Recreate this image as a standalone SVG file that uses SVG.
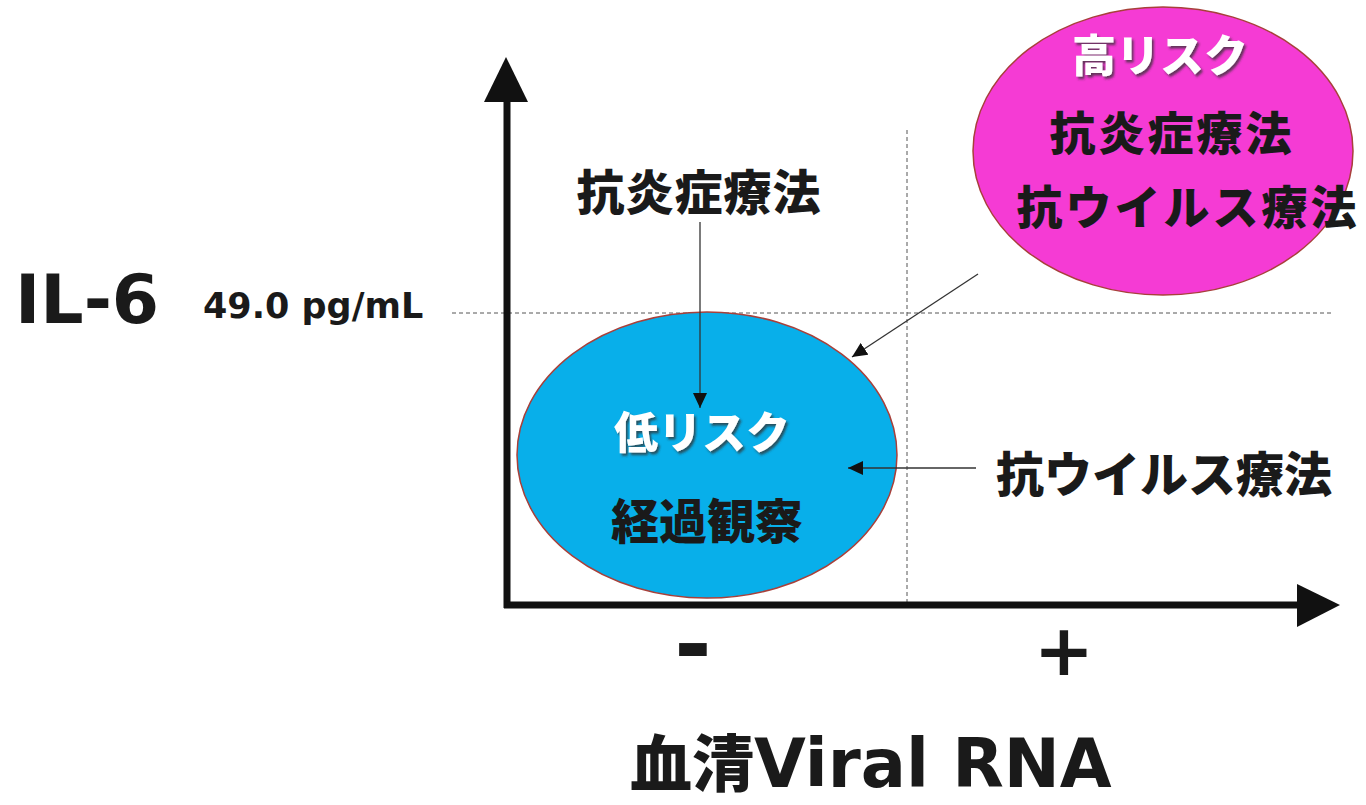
<svg xmlns="http://www.w3.org/2000/svg" width="1366" height="805" viewBox="0 0 1366 805">
<style>
.jp{font-family:"Noto Sans CJK JP","Noto Sans CJK SC",sans-serif;font-weight:900;fill:#1a1a1a;text-anchor:middle}
.lat{font-family:"DejaVu Sans","Liberation Sans",sans-serif;font-weight:700;fill:#1a1a1a}
.white{fill:#ffffff;filter:url(#shadow)}
.dash{stroke:#555;stroke-width:1;stroke-dasharray:4 3;fill:none}
.axis{stroke:#111;stroke-width:7;fill:none}
.conn{stroke:#333;stroke-width:1.3;fill:none;marker-end:url(#arr)}
</style>
<defs>
<filter id="shadow" x="-10%" y="-20%" width="130%" height="150%">
<feDropShadow dx="2" dy="2.5" stdDeviation="1" flood-color="#333" flood-opacity="0.75"/>
</filter>
<marker id="arr" markerUnits="userSpaceOnUse" markerWidth="15" markerHeight="14" refX="15" refY="7" orient="auto">
<path d="M0,0 L15,7 L0,14 z" fill="#111"/>
</marker>
</defs>
<rect width="1366" height="805" fill="#ffffff"/>

<g id="guides">
<line class="dash" x1="452" y1="313" x2="1332" y2="313"/>
<line class="dash" x1="907" y1="130" x2="907" y2="603"/>
</g>

<g id="axes">
<line class="axis" x1="507" y1="98" x2="507" y2="608"/>
<polygon points="506,57 528,102 484,102" fill="#111"/>
<line class="axis" x1="504" y1="605" x2="1300" y2="605"/>
<polygon points="1340,605 1297,584 1297,627" fill="#111"/>
</g>

<g id="low-risk">
<ellipse cx="707" cy="455" rx="190" ry="143" fill="#08AFEA" stroke="#A8403A" stroke-width="1.5"/>
<text class="jp white" x="702" y="449" font-size="44">低リスク</text>
<text class="jp" x="707" y="539" font-size="48">経過観察</text>
</g>

<g id="high-risk">
<ellipse cx="1163" cy="151" rx="190" ry="144" fill="#F53BD4" stroke="#A8403A" stroke-width="1.5"/>
<text class="jp white" x="1160" y="72" font-size="44">高リスク</text>
<text class="jp" x="1172" y="150" font-size="46" letter-spacing="3">抗炎症療法</text>
<text class="jp" x="1188" y="224" font-size="46" letter-spacing="3">抗ウイルス療法</text>
</g>

<g id="anti-inflammatory">
<text class="jp" x="699" y="210" font-size="48" letter-spacing="1">抗炎症療法</text>
</g>

<g id="antiviral">
<text class="jp" x="1164" y="492" font-size="48">抗ウイルス療法</text>
</g>

<g id="connectors">
<line class="conn" x1="700" y1="222" x2="700" y2="408"/>
<line class="conn" x1="976" y1="468" x2="848" y2="468"/>
<line class="conn" x1="978" y1="274" x2="852" y2="357"/>
</g>

<g id="labels">
<text class="lat" x="15" y="323" font-size="68">IL-6</text>
<text class="lat" x="203" y="318" font-size="35">49.0 pg/mL</text>
<text class="lat" x="693" y="676" font-size="90" text-anchor="middle">-</text>
<text class="lat" x="1064" y="675" font-size="72" text-anchor="middle">+</text>
<text x="630" y="787" font-size="62"><tspan font-family="Noto Sans CJK JP, Noto Sans CJK SC, sans-serif" font-weight="900" fill="#1a1a1a">血清</tspan><tspan class="lat" font-size="67">Viral RNA</tspan></text>
</g>
</svg>
